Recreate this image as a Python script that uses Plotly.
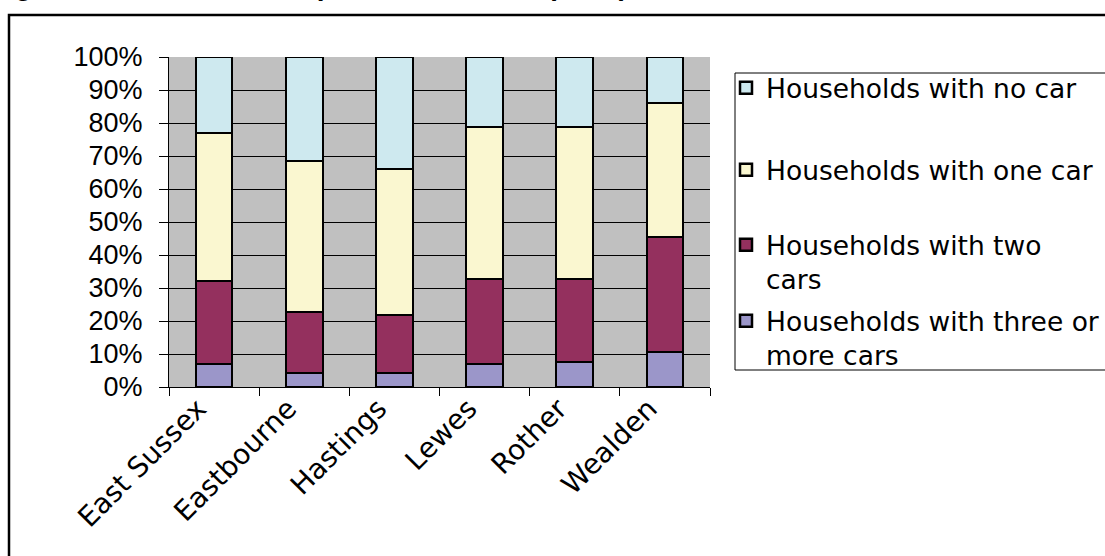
import plotly.graph_objects as go

# ---- data (percent of households) ----
districts = ["East Sussex", "Eastbourne", "Hastings", "Lewes", "Rother", "Wealden"]
three_plus = [7.1, 4.1, 4.1, 7.1, 7.6, 10.6]
two_cars = [24.9, 18.7, 17.7, 25.5, 25.0, 34.8]
one_car = [44.9, 45.7, 44.2, 46.1, 46.1, 40.6]
no_car = [23.1, 31.5, 34.0, 21.3, 21.3, 14.0]
y_ticks = [0, 10, 20, 30, 40, 50, 60, 70, 80, 90, 100]
y_tick_text = [f"{v}%" for v in y_ticks]

series_names = ["Households with three or<br>more cars", "Households with two<br>cars",
                "Households with one car", "Households with no car"]
series_vals = [three_plus, two_cars, one_car, no_car]
series_cols = ["#9B96C9", "#94305E", "#FAF7D0", "#CEE9EF"]
series_legends = ["legend4", "legend3", "legend2", "legend"]

# ---- layout geometry (pixels) ----
W, H = 1105, 556
PL, PR, PT, PB = 169, 710, 57, 387


def px(x):
    return (x - PL) / (PR - PL)


def py(y):
    return (PB - y) / (PB - PT)


FONT = "Liberation Sans, Arial, sans-serif"
WIDE = "DejaVu Sans, Verdana, sans-serif"
FS = 27

fig = go.Figure()
for name, vals, col, lg in zip(series_names, series_vals, series_cols, series_legends):
    fig.add_trace(go.Bar(
        x=districts, y=vals, name=name, legend=lg, showlegend=True,
        marker=dict(color=col, line=dict(color="#000000", width=2.5)),
        width=0.405, hoverinfo="skip",
    ))

legend_common = dict(
    font=dict(family=WIDE, size=26.5, color="#000000"),
    bgcolor="rgba(0,0,0,0)", borderwidth=0,
    xanchor="left", yanchor="middle", valign="top",
    itemclick=False, itemdoubleclick=False,
)
LX = px(726)
fig.update_layout(
    barmode="stack",
    showlegend=True,
    width=W, height=H,
    margin=dict(l=PL, r=W - PR, t=PT, b=H - PB, autoexpand=False),
    paper_bgcolor="#FFFFFF",
    plot_bgcolor="#C0C0C0",
    font=dict(family=FONT, size=FS, color="#000000"),
    bargap=0.0,
    legend=dict(x=LX, y=py(88), **legend_common),
    legend2=dict(x=LX, y=py(170), **legend_common),
    legend3=dict(x=LX, y=py(262), **legend_common),
    legend4=dict(x=LX, y=py(338), **legend_common),
    xaxis=dict(
        type="category", tickangle=-45, ticks="outside", ticklen=8, tickwidth=1,
        tickcolor="#000000", tickson="boundaries", showgrid=False,
        showline=True, linecolor="#000000", linewidth=1,
        tickfont=dict(family=WIDE, size=28, color="#000000"),
        ticklabelshift=-16, ticklabelstandoff=-7,
        range=[-0.5, 5.5],
    ),
    yaxis=dict(
        range=[0, 100], tickvals=y_ticks, ticktext=y_tick_text,
        ticks="outside", ticklen=9, tickwidth=1, tickcolor="#000000",
        showline=True, linecolor="#000000", linewidth=1,
        showgrid=True, gridcolor="#000000", gridwidth=1,
        zeroline=False, ticklabelstandoff=11,
        tickfont=dict(family=FONT, size=FS, color="#000000"),
    ),
    shapes=[
        # outer chart frame
        dict(type="rect", xref="paper", yref="paper", x0=px(9), x1=px(1120),
             y0=py(575), y1=py(15), line=dict(color="#000000", width=2.5),
             fillcolor="rgba(0,0,0,0)", layer="above"),
        # legend frame
        dict(type="rect", xref="paper", yref="paper", x0=px(735), x1=px(1120),
             y0=py(370), y1=py(73), line=dict(color="#000000", width=1),
             fillcolor="rgba(0,0,0,0)", layer="below"),
    ],
    annotations=[
        dict(text="<b>Figure 5.3: Car ownership in East Sussex (2001)</b>",
             xref="paper", yref="paper", x=px(-12), y=py(2.5),
             xanchor="left", yanchor="bottom", showarrow=False,
             font=dict(family=FONT, size=28, color="#000000")),
    ],
)

fig.write_html("out.html")
